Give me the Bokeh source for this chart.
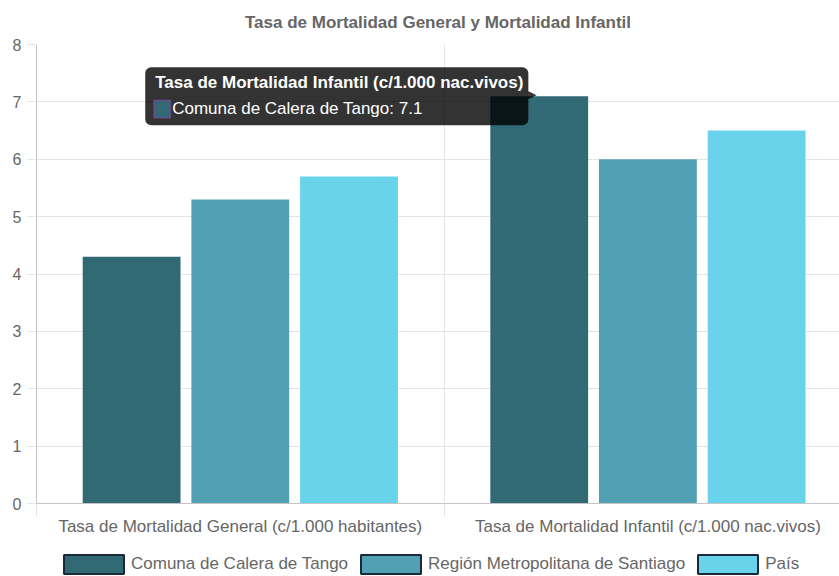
from bokeh.plotting import figure
from bokeh.layouts import column
from bokeh.models import Range1d, FixedTicker, Label, Legend, LegendItem
from bokeh.embed import file_html
from bokeh.resources import INLINE

# ---- data ----
categories = ["Tasa de Mortalidad General (c/1.000 habitantes)",
              "Tasa de Mortalidad Infantil (c/1.000 nac.vivos)"]
series_names = ["Comuna de Calera de Tango", "Región Metropolitana de Santiago", "País"]
comuna = [4.3, 7.1]
region = [5.3, 6.0]
pais = [5.7, 6.5]
y_ticks = [0, 1, 2, 3, 4, 5, 6, 7, 8]
title_text = "Tasa de Mortalidad General y Mortalidad Infantil"

colors = ["#316a74", "#51a0b3", "#68d3ea"]
series_values = [comuna, region, pais]
FONT = "Liberation Sans"
TXT = "#666666"
NAN = float("nan")

p = figure(width=839, height=552, x_range=Range1d(0, 1.97), y_range=Range1d(0, 8),
           output_backend="svg", toolbar_location=None,
           min_border_left=36, min_border_right=0, min_border_top=44, min_border_bottom=49)
p.outline_line_color = None

# title
p.title.text = title_text
p.title.align = "center"
p.title.vertical_align = "top"
p.title.text_font = FONT
p.title.text_font_size = "17px"
p.title.text_font_style = "bold"
p.title.text_color = TXT
p.title.standoff = 21

# bars
n = len(series_values)
slot = 0.8 / n
bar_w = slot * 0.9
offsets = [(j - (n - 1) / 2) * slot for j in range(n)]
for j, (vals, col) in enumerate(zip(series_values, colors)):
    xs = [i + 0.5 + offsets[j] for i in range(len(categories))]
    p.vbar(x=xs, top=vals, bottom=0, width=bar_w, fill_color=col, line_color=None)

# x axis
p.xaxis.ticker = FixedTicker(ticks=[i + 0.5 for i in range(len(categories))],
                             minor_ticks=list(range(len(categories) + 1)))
p.xaxis.major_label_overrides = {i + 0.5: c for i, c in enumerate(categories)}
p.xaxis.major_tick_out = 0
p.xaxis.major_tick_in = 0
p.xaxis.minor_tick_out = 13
p.xaxis.minor_tick_in = 0
p.xaxis.minor_tick_line_color = "#e5e5e5"
p.xaxis.axis_line_color = "#c4c4c4"
p.xaxis.major_label_standoff = 0
p.xaxis.major_label_text_font = FONT
p.xaxis.major_label_text_font_size = "17px"
p.xaxis.major_label_text_color = TXT
p.xgrid.ticker = FixedTicker(ticks=list(range(len(categories) + 1)))
p.xgrid.grid_line_color = "#e5e5e5"

# y axis
p.yaxis.ticker = FixedTicker(ticks=y_ticks)
p.yaxis.major_tick_out = 9
p.yaxis.major_tick_in = 0
p.yaxis.minor_tick_out = 0
p.yaxis.minor_tick_in = 0
p.yaxis.major_tick_line_color = "#e5e5e5"
p.yaxis.axis_line_color = "#c4c4c4"
p.yaxis.major_label_standoff = 6
p.yaxis.major_label_text_font = FONT
p.yaxis.major_label_text_font_size = "16px"
p.yaxis.major_label_text_color = TXT
p.ygrid.grid_line_color = "#e5e5e5"

# tooltip (hover state on Comuna, Infantil)
hi_s, hi_c = 0, 1
ax = hi_c + 0.5 + offsets[hi_s]
ay = series_values[hi_s][hi_c]
tip_title = Label(x=ax, y=ay, x_offset=-394, y_offset=0, text=categories[hi_c],
                  text_align="left", text_baseline="alphabetic", text_font=FONT,
                  text_font_size="17px", text_font_style="bold", text_color="white",
                  background_fill_color="black", background_fill_alpha=0.8,
                  border_radius=6, padding=dict(top=6, right=5, bottom=33, left=10))
p.add_layout(tip_title)
caret = Label(x=ax, y=ay, x_offset=-11, y_offset=2, text="\u25B6", text_align="left",
              text_baseline="middle", text_font_size="11px", text_color="black", text_alpha=0.8)
p.add_layout(caret)
swatch = Label(x=ax, y=ay, x_offset=-377, y_offset=-13, text="\u00a0", text_align="center",
               text_baseline="middle", text_font_size="1px",
               background_fill_color=colors[hi_s], border_line_color="#6b4c8a",
               border_line_width=1.5, padding=8)
p.add_layout(swatch)
tip_body = Label(x=ax, y=ay, x_offset=-367, y_offset=-12,
                 text=f"{series_names[hi_s]}: {series_values[hi_s][hi_c]}",
                 text_align="left", text_baseline="alphabetic", text_font=FONT,
                 text_font_size="17px", text_color="white")
p.add_layout(tip_body)

# legend strip below the chart
lf = figure(width=839, height=24, output_backend="svg", toolbar_location=None,
            min_border=0, x_axis_location=None, y_axis_location=None)
lf.outline_line_color = None
lf.xgrid.visible = False
lf.ygrid.visible = False
items = []
for col, name in zip(colors, series_names):
    r = lf.vbar(x=[NAN], top=[NAN], width=1, fill_color=col,
                line_color="#1b2838", line_width=2)
    items.append(LegendItem(label=name, renderers=[r]))
legend = Legend(items=items, orientation="horizontal", location=(20, 0),
                glyph_width=75, glyph_height=24, label_standoff=0, spacing=5,
                padding=0, margin=0, border_line_color=None, background_fill_alpha=0,
                label_text_font=FONT, label_text_font_size="17px", label_text_color=TXT,
                label_height=24)
lf.add_layout(legend)

open("out.html", "w").write(file_html(column(p, lf), INLINE))
